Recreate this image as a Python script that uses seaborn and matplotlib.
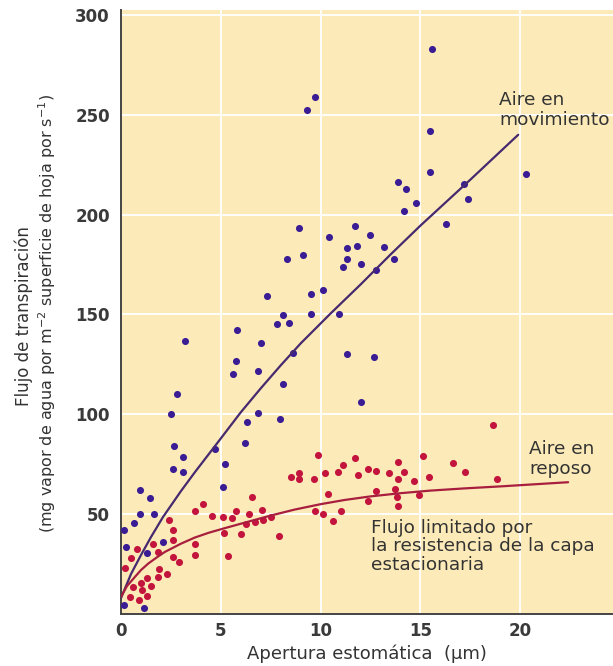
import numpy as np
import pandas as pd
import matplotlib
matplotlib.use("Agg")
import matplotlib.pyplot as plt
import seaborn as sns

# ---- data ----
blue_x = [15.6, 9.7, 9.3, 15.5, 15.5, 20.3, 13.9, 14.3, 17.2, 17.4, 14.8, 14.2, 16.3,
          8.9, 11.7, 10.4, 12.5, 11.3, 11.8, 13.2, 9.1, 11.3, 11.1, 12.0, 12.8, 13.7,
          9.5, 10.1, 9.5, 10.9, 8.3, 7.3, 5.8, 7.8, 8.1, 8.4, 3.2, 7.0, 5.75, 5.6, 6.85,
          8.6, 8.1, 11.3, 12.7, 12.0, 2.8, 2.5, 6.85, 7.95, 6.3, 6.2, 4.7, 2.65, 3.1,
          2.6, 3.1, 5.2, 5.1, 0.95, 1.45, 0.95, 0.65, 1.65, 0.15, 0.25, 1.3, 2.1, 0.15, 1.15]
blue_y = [283, 259, 252.5, 241.7, 221.4, 220.6, 216.3, 213, 215.5, 207.6, 205.6, 201.7, 195.4,
          193.2, 194.5, 188.9, 190, 183.4, 184.2, 184, 179.6, 177.7, 173.6, 175.1, 172.1, 177.6,
          160.3, 162.3, 150.1, 150.1, 177.9, 159.3, 142, 145.1, 149.6, 145.8, 136.5, 135.5, 126.5, 120.4, 121.5,
          130.7, 115.2, 130, 128.7, 106.1, 110.1, 100.1, 100.6, 97.6, 96.1, 85.6, 82.6, 83.9, 78.8,
          72.5, 71.2, 75, 63.8, 62.3, 58, 50.2, 45.7, 49.9, 42.2, 33.6, 30.8, 36.3, 4.5, 3.1]

red_x = [9.89, 11.71, 11.11, 8.52, 8.9, 8.94, 9.69, 10.23, 10.88, 11.86, 12.36, 12.77, 13.45,
         13.87, 13.87, 14.2, 14.7, 15.15, 15.45, 16.64, 17.21, 18.83, 18.63, 10.38, 12.77, 12.36,
         13.73, 13.82, 13.87, 14.95, 9.74, 10.13, 11.03, 10.61, 6.57, 4.11, 3.71, 4.56, 5.1, 5.58,
         5.78, 6.4, 6.73, 7.05, 7.13, 7.52, 6.25, 5.16, 6.0, 7.94, 5.36, 3.73, 3.71, 2.41, 2.59,
         2.59, 1.62, 0.79, 1.87, 0.49, 0.2, 1.92, 2.29, 1.85, 2.59, 2.89, 1.29, 1.52, 0.99, 0.62,
         1.05, 1.29, 0.45, 0.9]
red_y = [79.8, 78.2, 74.5, 68.7, 70.5, 67.5, 67.7, 70.5, 71.2, 69.5, 72.8, 71.8, 70.7,
         76.3, 67.7, 70.9, 66.7, 79.3, 68.5, 75.7, 71.2, 67.5, 94.6, 59.9, 61.5, 56.7,
         62.7, 58.5, 53.9, 59.4, 51.7, 49.9, 51.7, 46.5, 58.5, 54.9, 51.7, 49.1, 48.5, 48.1,
         51.7, 50.1, 46.2, 52.1, 46.9, 48.5, 45.2, 40.7, 40.2, 38.9, 29.1, 35.2, 29.4, 47.2, 41.9,
         37.3, 35.2, 32.8, 31.1, 27.8, 22.9, 22.6, 19.8, 18.3, 28.6, 25.9, 17.8, 14.0, 15.6, 13.6,
         12.0, 9.0, 8.6, 7.0]

# trend curves
blue_curve_x = [0, 0.5, 1.0, 1.5, 2.1, 3.0, 3.7, 4.7, 6.0, 7.0, 8.0, 9.0, 10.5, 12.0, 13.5, 15.0, 17.5, 19.9]
blue_curve_y = [8, 20, 29.5, 38.5, 48.5, 61.5, 71, 84, 101, 113, 124.5, 135.5, 150.5, 165, 180, 194.5, 217.5, 240]
red_curve_x = [0, 0.3, 0.7, 1.0, 1.37, 1.8, 2.2, 3.0, 3.7, 4.4, 5.2, 6.4, 7.5, 8.7, 10.0, 11.2, 12.5, 14.0, 15.5, 17.2, 19.0, 22.4]
red_curve_y = [8.6, 14, 18.6, 22.0, 25.3, 28.4, 31.1, 35.2, 38.3, 40.7, 43.0, 46.3, 49.3, 52.3, 55.0, 57.1, 58.9, 60.5, 61.8, 62.9, 63.9, 66.0]

x_ticks = [0, 5, 10, 15, 20]
y_ticks = [50, 100, 150, 200, 250, 300]

BG = "#fcebb8"
BLUE = "#3a1c94"
RED = "#c2143c"
BLUE_LINE = "#46296e"
RED_LINE = "#a81e3e"
TXT = "#333333"

sns.set_theme(style="white")
plt.rcParams["font.family"] = ["DejaVu Sans"]

fig = plt.figure(figsize=(6.13, 6.66), dpi=100)
ax = fig.add_axes([121 / 613, 52 / 666, 492 / 613, 604 / 666])
ax.set_facecolor(BG)

blue_df = pd.DataFrame({"x": blue_x, "y": blue_y})
red_df = pd.DataFrame({"x": red_x, "y": red_y})
sns.scatterplot(data=blue_df, x="x", y="y", ax=ax, color=BLUE, s=26, linewidth=0, zorder=3)
sns.scatterplot(data=red_df, x="x", y="y", ax=ax, color=RED, s=26, linewidth=0, zorder=3)

bc = pd.DataFrame({"x": blue_curve_x, "y": blue_curve_y})
rc = pd.DataFrame({"x": red_curve_x, "y": red_curve_y})
sns.lineplot(data=bc, x="x", y="y", ax=ax, color=BLUE_LINE, linewidth=1.6, zorder=4, sort=False)
sns.lineplot(data=rc, x="x", y="y", ax=ax, color=RED_LINE, linewidth=1.6, zorder=4, sort=False)

ax.set_xlim(0, 24.65)
ax.set_ylim(0, 302.5)
ax.set_xticks(x_ticks)
ax.set_yticks(y_ticks)
ax.set_xticklabels([str(t) for t in x_ticks])
ax.set_yticklabels([str(t) for t in y_ticks])
ax.grid(True, color="white", linewidth=1.3, zorder=0)
ax.set_axisbelow(True)

for s in ["top", "right"]:
    ax.spines[s].set_visible(False)
for s in ["left", "bottom"]:
    ax.spines[s].set_color("#444444")
    ax.spines[s].set_linewidth(1.4)

ax.tick_params(axis="y", direction="in", length=10, width=1.2, color="#666666",
               labelsize=12, labelcolor="#3a3a3a", pad=8)
ax.tick_params(axis="x", direction="in", length=8, width=1.2, color="#666666",
               labelsize=12, labelcolor="#3a3a3a", pad=6)
for lab in ax.get_xticklabels() + ax.get_yticklabels():
    lab.set_fontweight("bold")

ax.set_xlabel("Apertura estomática  (µm)", fontsize=13, color=TXT, labelpad=3)
ax.set_ylabel("")
fig.text(24 / 613, 1 - 316 / 666, "Flujo de transpiración", rotation=90,
         ha="center", va="center", fontsize=12, color=TXT)
fig.text(47 / 613, 1 - 313 / 666,
         "(mg vapor de agua por m$^{-2}$ superficie de hoja por s$^{-1}$)",
         rotation=90, ha="center", va="center", fontsize=11.5, color=TXT)

ax.text(18.95, 262, "Aire en\nmovimiento", fontsize=13.3, color=TXT, ha="left", va="top",
        linespacing=1.12)
ax.text(20.45, 87, "Aire en\nreposo", fontsize=13.3, color=TXT, ha="left", va="top",
        linespacing=1.12)
ax.text(12.55, 47.5, "Flujo limitado por\nla resistencia de la capa\nestacionaria",
        fontsize=13.3, color=TXT, ha="left", va="top", linespacing=1.02)

fig.savefig("out.png", dpi=100)
